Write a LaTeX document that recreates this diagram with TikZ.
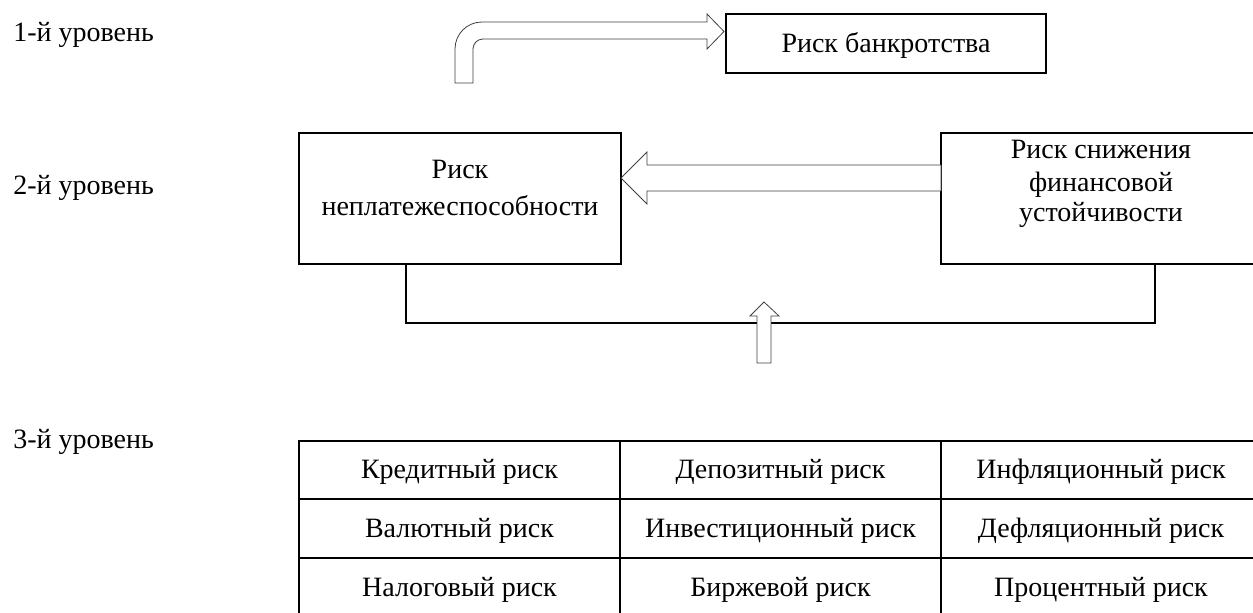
\documentclass[tikz,border=0pt]{standalone}
\usepackage{fontspec}
\setmainfont{Liberation Serif}
\newcommand\fsz{\fontsize{21}{25}\selectfont}
\begin{document}
\begin{tikzpicture}[x=0.75pt,y=-0.75pt,
  box/.style={draw,line width=1.1pt,inner sep=0pt},
  txt/.style={font=\fsz,inner sep=0pt,anchor=base},
  lvl/.style={font=\fsz,inner sep=0pt,anchor=base west},
  blk/.style={draw=black!75,line width=0.6pt,fill=white,line join=miter},
  ln/.style={line width=1.1pt}]
\useasboundingbox (0,0) rectangle (1253,613);
\begin{scope}
\clip (0,0) rectangle (1253,613);
% level labels
\node[lvl] (l1) at (13,42) {1-й уровень};
\node[lvl] (l2) at (13,195) {2-й уровень};
\node[lvl] (l3) at (13,448) {3-й уровень};
% level 1
\node[box,minimum width=240pt,minimum height=44.25pt] (T) at (886,43.5) {};
\node[txt] (Tt) at (886,53) {Риск банкротства};
\draw[blk] (455,83) -- (455,49) .. controls (455,34) and (467,22) .. (482,22) -- (707,22) -- (707,14) -- (724,31.5) -- (707,49) -- (707,39) -- (483,39) .. controls (477.5,39) and (473,43.5) .. (473,49) -- (473,83) -- cycle;
% level 2
\node[box,minimum width=241.5pt,minimum height=98.25pt] (L) at (460,198.5) {};
\node[txt] (Lt1) at (460,179) {Риск};
\node[txt] (Lt2) at (460,215) {неплатежеспособности};
\node[box,minimum width=240pt,minimum height=98.25pt] (R) at (1101,198.5) {};
\node[txt] (Rt1) at (1101,159) {Риск снижения};
\node[txt] (Rt2) at (1101,191) {финансовой};
\node[txt] (Rt3) at (1101,222) {устойчивости};
\draw[blk] (621,178) -- (647,152) -- (647,165) -- (941,165) -- (941,191) -- (647,191) -- (647,204) -- cycle;
\draw[ln] (406,264) -- (406,323) -- (1155,323) -- (1155,264);
\draw[blk] (764,302) -- (779,316) -- (771,316) -- (771,363) -- (757,363) -- (757,316) -- (750,316) -- cycle;
% level 3 table
\draw[ln] (299,441) rectangle (1261,616);
\draw[ln] (299,499) -- (1261,499);
\draw[ln] (299,558) -- (1261,558);
\draw[ln] (620,441) -- (620,616);
\draw[ln] (941,441) -- (941,616);
\node[txt] (c11) at (459.5,478) {Кредитный риск};
\node[txt] (c12) at (780.5,478) {Депозитный риск};
\node[txt] (c13) at (1101,478) {Инфляционный риск};
\node[txt] (c21) at (459.5,537) {Валютный риск};
\node[txt] (c22) at (780.5,537) {Инвестиционный риск};
\node[txt] (c23) at (1101,537) {Дефляционный риск};
\node[txt] (c31) at (459.5,596) {Налоговый риск};
\node[txt] (c32) at (780.5,596) {Биржевой риск};
\node[txt] (c33) at (1101,596) {Процентный риск};
\end{scope}
\end{tikzpicture}
\end{document}
